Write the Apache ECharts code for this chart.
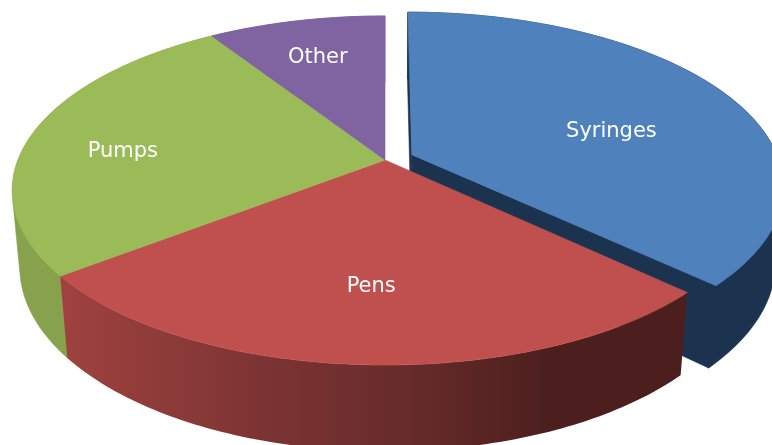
<!DOCTYPE html>
<html>
<head>
<meta charset="utf-8">
<style>html,body{margin:0;padding:0;background:#fff;overflow:hidden}#c{width:772px;height:445px}</style>
<script src="https://cdn.jsdelivr.net/npm/echarts@6/dist/echarts.min.js"></script>
</head>
<body>
<div id="c"></div>
<script>
// Data (share of the whole, clockwise from 12 o'clock)
const categories = ['Syringes', 'Pens', 'Pumps', 'Other'];
const shares = [37.1, 27.4, 26.4, 9.1];

// Styling per slice
const topColors = ['#4f81bd', '#c0504d', '#9bbb59', '#8064a2'];
const explode = [0.08, 0, 0, 0];
const labelRadius = [0.58, 0.66, 0.723, 0.705];
const labelTurn = [9, 0, -5.5, -0.5];
const wallLayer = [0, 3, 2, 2];
const topLayer = [1, 4, 4, 4];
const wallFills = [
  '#1c334f',
  { type: 'linear', x: 0, y: 0, x2: 1, y2: 0, colorStops: [
    { offset: 0, color: '#a0423f' },
    { offset: 0.3, color: '#7e3534' },
    { offset: 0.54, color: '#682c2b' },
    { offset: 0.78, color: '#4c1f1e' },
    { offset: 1, color: '#4c1f1e' }
  ] },
  '#87a14d',
  '#66507f'
];

// Perspective camera of the 3D pie
const cam = { cx: 385, cy: 160, f: 367, b: 169.2, p: 0.1748, depth: 77, depthW: 0.02 };
function project(u, v, low) {
  const w = 1 + cam.p * v + (low ? cam.depthW : 0);
  return [cam.cx + cam.f * u / w, cam.cy + (-cam.b * v + (low ? cam.depth : 0)) / w];
}

// Outline of a wall: hull of both rims, its inner part is covered by the top faces
function hull(points) {
  const s = points.slice().sort((a, b) => a[0] - b[0] || a[1] - b[1]);
  const cross = (o, a, b) => (a[0] - o[0]) * (b[1] - o[1]) - (a[1] - o[1]) * (b[0] - o[0]);
  const half = list => {
    const h = [];
    list.forEach(p => {
      while (h.length > 1 && cross(h[h.length - 2], h[h.length - 1], p) <= 0) h.pop();
      h.push(p);
    });
    h.pop();
    return h;
  };
  return half(s).concat(half(s.slice().reverse()));
}

const total = shares.reduce((a, b) => a + b, 0);
const starts = [];
shares.reduce((acc, s, i) => { starts[i] = acc; return acc + s; }, 0);
const rad = d => d * Math.PI / 180;

function renderItem(params, api) {
  const i = params.dataIndex;
  const a0 = starts[i] / total * 360;
  const a1 = a0 + api.value(0) / total * 360;
  const mid = rad((a0 + a1) / 2);
  const ou = explode[i] * Math.sin(mid), ov = explode[i] * Math.cos(mid);
  const rim = [];
  for (let a = a0; a < a1; a += 1) rim.push(a);
  rim.push(a1);
  const pt = (a, low) => project(ou + Math.sin(rad(a)), ov + Math.cos(rad(a)), low);
  const apex = low => project(ou, ov, low);
  const children = [];
  const poly = (points, fill, z2) => children.push({
    type: 'polygon', z2: z2,
    shape: { points: points },
    style: { fill: fill, stroke: typeof fill === 'string' ? fill : null, lineWidth: 0.6 }
  });
  // side walls
  if (typeof wallFills[i] === 'string') {
    poly(hull(rim.map(a => pt(a, false)).concat(rim.map(a => pt(a, true)))), wallFills[i], wallLayer[i]);
  } else {
    poly(rim.map(a => pt(a, false)).concat(rim.slice().reverse().map(a => pt(a, true))), wallFills[i], wallLayer[i]);
  }
  if (explode[i] > 0) {
    [a0, a1].forEach(a => poly([apex(false), pt(a, false), pt(a, true), apex(true)], wallFills[i], wallLayer[i]));
  }
  // top face
  poly([apex(false)].concat(rim.map(a => pt(a, false))), topColors[i], topLayer[i]);
  // label
  const lr = labelRadius[i], la = mid + rad(labelTurn[i]);
  const lp = project(ou + lr * Math.sin(la), ov + lr * Math.cos(la), false);
  children.push({
    type: 'text', z2: 10,
    style: {
      x: lp[0], y: lp[1], text: categories[i], fill: '#fff',
      font: '21px "DejaVu Sans"', align: 'center', verticalAlign: 'middle'
    }
  });
  return { type: 'group', children: children };
}

const chart = echarts.init(document.getElementById('c'), null, { renderer: 'canvas' });
chart.setOption({
  animation: false,
  backgroundColor: '#fff',
  series: [{
    type: 'custom',
    coordinateSystem: 'none',
    renderItem: renderItem,
    data: shares.map((s, i) => ({ name: categories[i], value: [s] }))
  }]
});
</script>
</body>
</html>
